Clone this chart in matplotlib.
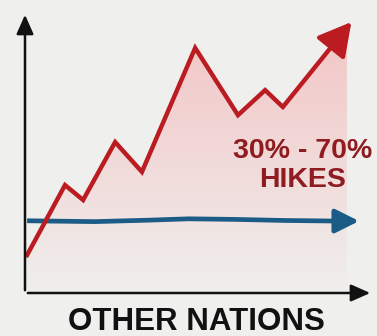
import numpy as np
import matplotlib

matplotlib.use("Agg")
import matplotlib.pyplot as plt
from matplotlib.patches import Polygon

# red series: tariff hikes (arbitrary units, 0-100)
hike_x = [0.6, 11.5, 16.7, 25.9, 33.6, 48.9, 61.2, 69.0, 74.1, 94.3]
hike_y = [13.5, 38.4, 33.1, 53.7, 43.1, 87.2, 63.3, 72.2, 66.2, 97.2]
fill_end_x = 92.5

# blue series: other nations, roughly flat
flat_x = [0.6, 20.0, 35.0, 47.0, 60.0, 75.0, 90.0, 96.8]
flat_y = [25.7, 25.4, 25.9, 26.4, 26.2, 25.8, 25.6, 25.6]

label_text = "30% - 70%\nHIKES"
xlabel_text = "OTHER NATIONS"

bg = "#efefed"
red = "#bb1c22"
blue = "#1b5c86"

fig = plt.figure(figsize=(3.77, 3.36), dpi=100, facecolor=bg)
ax = fig.add_axes([25 / 377, 43 / 336, 348 / 377, 281 / 336])
ax.set_facecolor("none")
ax.set_xlim(0, 100)
ax.set_ylim(0, 100)
ax.axis("off")

# gradient fill under the red line
fx = [x for x in hike_x if x <= fill_end_x] + [fill_end_x]
fy = list(np.interp(fx, hike_x, hike_y))
poly = Polygon(list(zip(fx, fy)) + [(fill_end_x, 0), (fx[0], 0)], closed=True,
               facecolor="none", edgecolor="none")
ax.add_patch(poly)
grad = np.linspace(0, 1, 256).reshape(-1, 1)
cmap = matplotlib.colors.LinearSegmentedColormap.from_list("pinkfade", [bg, "#f3c3c3"])
img = ax.imshow(grad, extent=[0, 100, 0, 100], origin="lower", aspect="auto",
                cmap=cmap, zorder=1)
img.set_clip_path(poly)

# blue line with arrow
ax.plot(flat_x[:-1], flat_y[:-1], color=blue, lw=3.4, solid_capstyle="butt", zorder=3)
ax.annotate("", xy=(flat_x[-1], flat_y[-1]), xytext=(flat_x[-2], flat_y[-2]),
            arrowprops=dict(arrowstyle="-|>,head_length=0.9,head_width=0.45",
                            color=blue, lw=3.4, mutation_scale=16), zorder=3)

# red line with arrow
ax.plot(hike_x[:-1], hike_y[:-1], color=red, lw=3.2, solid_joinstyle="miter", zorder=4)
ax.annotate("", xy=(hike_x[-1], hike_y[-1]), xytext=(hike_x[-2], hike_y[-2]),
            arrowprops=dict(arrowstyle="-|>,head_length=1.0,head_width=0.55",
                            color=red, lw=3.2, mutation_scale=20), zorder=4)

# axes arrows
ax.annotate("", xy=(0, 100), xytext=(0, 0),
            arrowprops=dict(arrowstyle="-|>,head_length=0.9,head_width=0.4",
                            color="#111111", lw=1.8, mutation_scale=13), zorder=5)
ax.annotate("", xy=(100, 0), xytext=(0, 0),
            arrowprops=dict(arrowstyle="-|>,head_length=0.9,head_width=0.4",
                            color="#111111", lw=1.8, mutation_scale=13), zorder=5)

ax.text(79.8, 45.5, label_text, ha="center", va="center", color="#8e1c20",
        fontsize=20.5, fontweight="bold", linespacing=1.15,
        family=["Liberation Sans", "DejaVu Sans"], zorder=6)

fig.text(0.52, 0.041, xlabel_text, ha="center", va="center", color="#111111",
         fontsize=22.5, fontweight="bold",
         family=["Liberation Sans", "DejaVu Sans"])

fig.savefig("out.png", dpi=100, facecolor=bg)
